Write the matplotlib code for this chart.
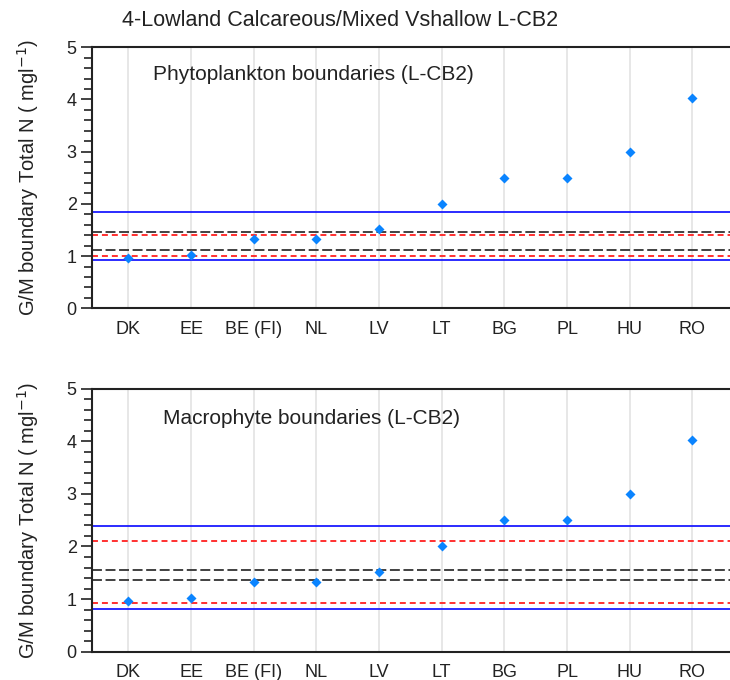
import matplotlib
matplotlib.use("Agg")
import matplotlib.pyplot as plt
from matplotlib.ticker import MultipleLocator

plt.rcParams["font.family"] = ["Liberation Sans", "DejaVu Sans"]

countries = ["DK", "EE", "BE (FI)", "NL", "LV", "LT", "BG", "PL", "HU", "RO"]
gm_values = [0.97, 1.02, 1.32, 1.32, 1.52, 2.0, 2.5, 2.5, 3.0, 4.02]

# boundary lines (blue solid, black dashed, red dashed) for each panel
phyto_blue = [1.85, 0.93]
phyto_black = [1.47, 1.11]
phyto_red = [1.41, 1.0]

macro_blue = [2.39, 0.81]
macro_black = [1.56, 1.37]
macro_red = [2.11, 0.93]

title = "4-Lowland Calcareous/Mixed Vshallow L-CB2"
panel_labels = ["Phytoplankton boundaries (L-CB2)", "Macrophyte boundaries (L-CB2)"]
ylabel = r"G/M boundary Total N ( mgl$^{-1}$)"

fig = plt.figure(figsize=(7.3, 6.8), dpi=100)
ax1 = fig.add_axes([0.126, 0.5466, 0.874, 0.384])
ax2 = fig.add_axes([0.126, 0.0416, 0.874, 0.387])

panels = [
    (ax1, phyto_blue, phyto_black, phyto_red, panel_labels[0], (1.39, 4.47)),
    (ax2, macro_blue, macro_black, macro_red, panel_labels[1], (1.56, 4.43)),
]

x = list(range(1, len(countries) + 1))

for ax, blue, black, red, lab, pos in panels:
    for xi in x:
        ax.axvline(xi, color="#e3e3e3", lw=1.2, zorder=0)
    for v in blue:
        ax.axhline(v, color="#1a1aff", lw=1.3, zorder=2)
    for v in black:
        ax.axhline(v, color="#333333", lw=1.3, dashes=(5.5, 2), zorder=2)
    for v in red:
        ax.axhline(v, color="#ff2020", lw=1.3, dashes=(3.3, 2.2), zorder=2)
    ax.plot(x, gm_values, "D", color="#0a84ff", ms=5.5, mec="none", zorder=3)

    ax.set_xlim(0.42, 10.6)
    ax.set_ylim(0, 5)
    ax.set_xticks(x)
    ax.set_xticklabels(countries, fontsize=13, color="#222222")
    ax.tick_params(axis="x", length=0, pad=9)
    ax.yaxis.set_major_locator(MultipleLocator(1))
    ax.yaxis.set_minor_locator(MultipleLocator(0.2))
    ax.tick_params(axis="y", which="major", length=8, width=1.2, labelsize=13,
                   colors="#222222", pad=3)
    ax.tick_params(axis="y", which="minor", length=6, width=1.2, colors="#222222")
    ax.spines["right"].set_visible(False)
    for s in ["left", "top", "bottom"]:
        ax.spines[s].set_color("#222222")
        ax.spines[s].set_linewidth(1.5)
    ax.set_ylabel(ylabel, fontsize=14.5, color="#222222")
    ax.yaxis.set_label_coords(-0.08, 0.5)
    ax.text(pos[0], pos[1], lab, fontsize=15, color="#222222", va="center", ha="left")

fig.text(122 / 730, 1 - 21 / 680, title, fontsize=15.5, color="#222222", va="center", ha="left")

plt.savefig("out.png", dpi=100)
